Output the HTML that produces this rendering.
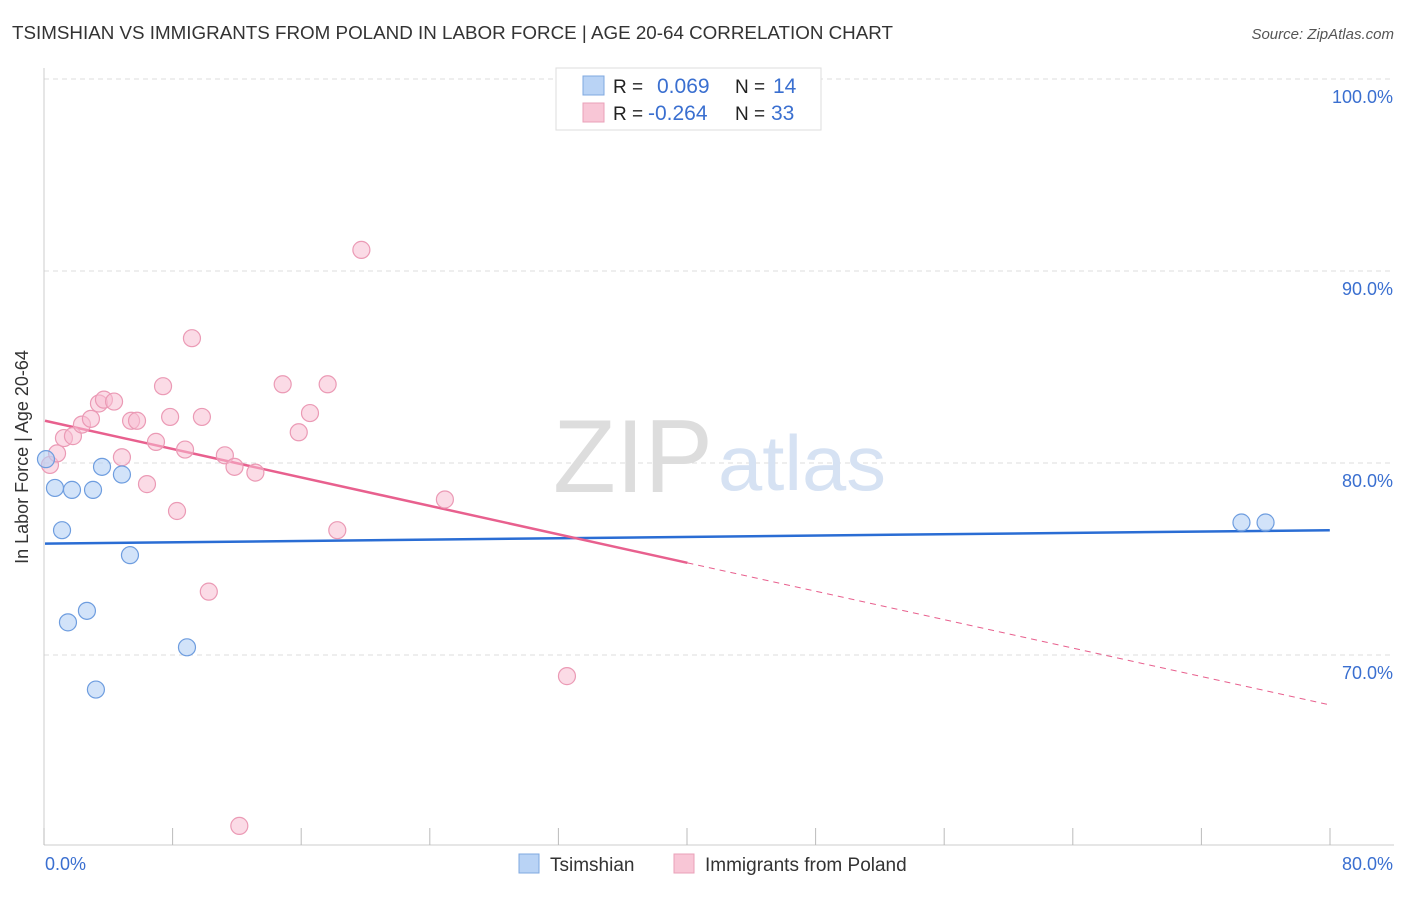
<!DOCTYPE html>
<html><head><meta charset="utf-8"><style>
body{margin:0;background:#fff;font-family:"Liberation Sans",sans-serif;}
svg text{font-family:"Liberation Sans",sans-serif;}
</style></head><body>
<svg id="chart" width="1406" height="892" xmlns="http://www.w3.org/2000/svg">
<text x="12" y="39" font-size="18.5" fill="#333" textLength="881" lengthAdjust="spacingAndGlyphs">TSIMSHIAN VS IMMIGRANTS FROM POLAND IN LABOR FORCE | AGE 20-64 CORRELATION CHART</text>
<text x="1394" y="39" font-size="15" fill="#555" font-style="italic" text-anchor="end">Source: ZipAtlas.com</text>
<g id="grid"></g>
<text x="553" y="492" font-size="104" fill="#ddd" font-family="Liberation Serif" textLength="160" lengthAdjust="spacingAndGlyphs">ZIP</text>
<text x="718" y="490" font-size="78" fill="#d6e2f3" textLength="168" lengthAdjust="spacingAndGlyphs">atlas</text>
<line x1="44" y1="68" x2="44" y2="845" stroke="#ccc"/>
<line x1="44" y1="845" x2="1394" y2="845" stroke="#ccc"/>
<g id="ticks"></g>
<text x="28" y="457" font-size="18" fill="#333" text-anchor="middle" transform="rotate(-90 28 457)">In Labor Force | Age 20-64</text>
<text x="45" y="870" font-size="18" fill="#3a6fd0">0.0%</text>
<text x="1393" y="870" font-size="18" fill="#3a6fd0" text-anchor="end">80.0%</text>
<g id="lines"></g>
<g id="points"></g>
<g>
<rect x="556" y="68" width="265" height="62" fill="#fff" stroke="#ddd"/>
<rect x="583" y="76" width="21" height="19" fill="#b9d3f5" stroke="#7fa8e0"/>
<rect x="583" y="103" width="21" height="19" fill="#f8c6d6" stroke="#eaa0b8"/>
<text x="613" y="93" font-size="19" fill="#222">R =</text><text x="657" y="93" font-size="21" fill="#3a6fd0">0.069</text>
<text x="735" y="93" font-size="19" fill="#222">N =</text><text x="773" y="93" font-size="21" fill="#3a6fd0">14</text>
<text x="613" y="120" font-size="19" fill="#222">R =</text><text x="648" y="120" font-size="21" fill="#3a6fd0">-0.264</text>
<text x="735" y="120" font-size="19" fill="#222">N =</text><text x="771" y="120" font-size="21" fill="#3a6fd0">33</text>
</g>
<g>
<rect x="519" y="854" width="20" height="19" fill="#b9d3f5" stroke="#7fa8e0"/>
<text x="550" y="871" font-size="19" fill="#333">Tsimshian</text>
<rect x="674" y="854" width="20" height="19" fill="#f8c6d6" stroke="#eaa0b8"/>
<text x="705" y="871" font-size="19" fill="#333">Immigrants from Poland</text>
</g>
</svg>
<script>
const yTicks=[100,90,80,70];
const yTickLabels=["100.0%","90.0%","80.0%","70.0%"];
const xTicks=[0,10,20,30,40,50,60,70,80,90,100];
const blueX=[0.06,0.62,1.68,2.99,1.06,3.55,4.79,5.29,2.61,1.43,3.17,8.84,74.5,76.0];
const blueY=[80.2,78.7,78.6,78.6,76.5,79.8,79.4,75.2,72.3,71.7,68.2,70.4,76.9,76.9];
const pinkX=[0.31,0.75,1.18,1.74,2.30,2.86,3.36,3.67,4.30,5.36,5.73,6.91,7.35,7.79,8.22,8.72,9.15,9.77,10.2,11.2,11.8,12.1,13.1,14.8,15.8,16.5,17.6,18.2,19.7,24.9,32.5,6.35,4.79];
const pinkY=[79.9,80.5,81.3,81.4,82.0,82.3,83.1,83.3,83.2,82.2,82.2,81.1,84.0,82.4,77.5,80.7,86.5,82.4,73.3,80.4,79.8,61.1,79.5,84.1,81.6,82.6,84.1,76.5,91.1,78.1,68.9,78.9,80.3];
const blueTrend=[0,75.8,80,76.5];
const pinkTrend=[0,82.2,40,74.8,80,67.4];
const X=v=>45+v*16.06, XT=v=>44+v*12.86, Y=v=>79+(100-v)*19.2;
const NS="http://www.w3.org/2000/svg";
function mk(t,a,p){const e=document.createElementNS(NS,t);for(const k in a)e.setAttribute(k,a[k]);p.appendChild(e);return e;}
const grid=document.getElementById('grid');
yTicks.forEach((t,i)=>{
 const l=mk('line',{x1:44,x2:1394,y1:Y(t),y2:Y(t),stroke:'#ddd','stroke-dasharray':'5,4'},grid);
 
 
 const tx=mk('text',{x:1393,y:Y(t)+24,'font-size':18,fill:'#3a6fd0','text-anchor':'end'},grid);
 tx.textContent=yTickLabels[i];
 
 
});
const tk=document.getElementById('ticks');
xTicks.forEach(t=>{
 const l=mk('line',{x1:XT(t),x2:XT(t),y1:828,y2:845,stroke:'#bbb'},tk);
 
 
});
const ln=document.getElementById('lines');
let b=mk('line',{x1:X(blueTrend[0]),y1:Y(blueTrend[1]),x2:X(blueTrend[2]),y2:Y(blueTrend[3]),stroke:'#2a6dd4','stroke-width':2.5},ln);


let p1=mk('line',{x1:X(pinkTrend[0]),y1:Y(pinkTrend[1]),x2:X(pinkTrend[2]),y2:Y(pinkTrend[3]),stroke:'#e8608e','stroke-width':2.5},ln);


let p2=mk('line',{x1:X(pinkTrend[2]),y1:Y(pinkTrend[3]),x2:X(pinkTrend[4]),y2:Y(pinkTrend[5]),stroke:'#e8608e','stroke-width':1,'stroke-dasharray':'6,5'},ln);


const pts=document.getElementById('points');
pinkX.forEach((x,i)=>{
 const c=mk('circle',{cx:X(x),cy:Y(pinkY[i]),r:8.5,fill:'rgba(248,190,210,0.55)',stroke:'#eb9ab5','stroke-width':1.2},pts);
 
 
});
blueX.forEach((x,i)=>{
 const c=mk('circle',{cx:X(x),cy:Y(blueY[i]),r:8.5,fill:'rgba(180,208,245,0.6)',stroke:'#6e9ddf','stroke-width':1.2},pts);
 
 
});
</script>
</body></html>
